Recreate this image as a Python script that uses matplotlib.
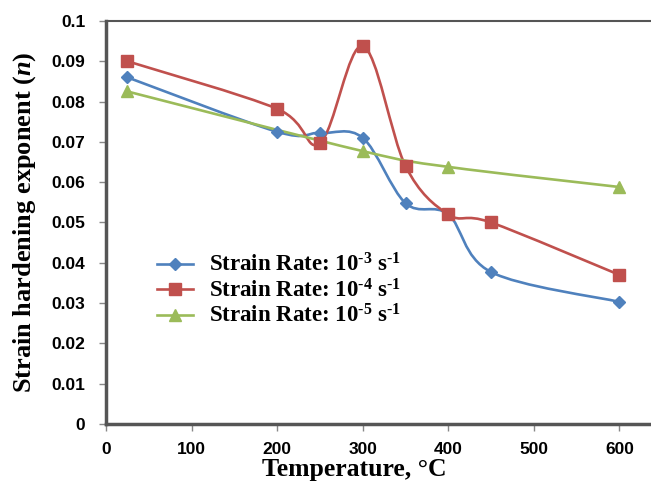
import matplotlib
matplotlib.use("Agg")
import matplotlib.pyplot as plt
from matplotlib.path import Path
from matplotlib.patches import PathPatch
from matplotlib.lines import Line2D

# data
temp_1 = [25, 200, 250, 300, 350, 400, 450, 600]
n_1 = [0.086, 0.0725, 0.0722, 0.071, 0.0548, 0.052, 0.0377, 0.0303]   # 10^-3 s^-1
temp_2 = [25, 200, 250, 300, 350, 400, 450, 600]
n_2 = [0.090, 0.0782, 0.0697, 0.0938, 0.0640, 0.052, 0.050, 0.037]   # 10^-4 s^-1
temp_3 = [25, 300, 400, 600]
n_3 = [0.0825, 0.0677, 0.0638, 0.0588]                                # 10^-5 s^-1

labels = ["Strain Rate: 10$^{\\text{-3}}$ s$^{\\text{-1}}$",
          "Strain Rate: 10$^{\\text{-4}}$ s$^{\\text{-1}}$",
          "Strain Rate: 10$^{\\text{-5}}$ s$^{\\text{-1}}$"]
colors = ["#4F81BD", "#C0504D", "#9BBB59"]
markers = ["D", "s", "^"]
msizes = [6.5, 8, 8]

plt.rcParams['mathtext.fontset'] = 'custom'
plt.rcParams['mathtext.rm'] = 'Liberation Serif:bold'
plt.rcParams['mathtext.bf'] = 'Liberation Serif:bold'
plt.rcParams['mathtext.it'] = 'Liberation Serif:bold:italic'


def smooth_path(x, y):
    # excel-like smoothed line: cubic bezier through the points
    pts = list(zip(x, y))
    verts = [pts[0]]
    codes = [Path.MOVETO]
    for i in range(len(pts) - 1):
        p0 = pts[i - 1] if i > 0 else pts[i]
        p1 = pts[i]
        p2 = pts[i + 1]
        p3 = pts[i + 2] if i + 2 < len(pts) else pts[i + 1]
        c1 = (p1[0] + (p2[0] - p0[0]) / 6, p1[1] + (p2[1] - p0[1]) / 6)
        c2 = (p2[0] - (p3[0] - p1[0]) / 6, p2[1] - (p3[1] - p1[1]) / 6)
        verts += [c1, c2, p2]
        codes += [Path.CURVE4] * 3
    return Path(verts, codes)


fig = plt.figure(figsize=(6.51, 4.91), dpi=100)
ax = fig.add_axes([0.163, 0.1365, 0.837, 0.8208])

handles = []
for xs, ys, c, m, ms, lab in zip([temp_1, temp_2, temp_3], [n_1, n_2, n_3],
                                 colors, markers, msizes, labels):
    ax.add_patch(PathPatch(smooth_path(xs, ys), facecolor='none', edgecolor=c, lw=1.9))
    ax.plot(xs, ys, linestyle='none', marker=m, color=c, markersize=ms)
    handles.append(Line2D([], [], color=c, lw=1.9, marker=m, markersize=ms, label=lab))

ax.set_xlim(0, 637)
ax.set_ylim(0, 0.1)
ax.set_xticks([0, 100, 200, 300, 400, 500, 600])
ax.set_yticks([0, 0.01, 0.02, 0.03, 0.04, 0.05, 0.06, 0.07, 0.08, 0.09, 0.1])
ax.set_yticklabels(['0', '0.01', '0.02', '0.03', '0.04', '0.05', '0.06', '0.07', '0.08', '0.09', '0.1'])

for lab in ax.get_xticklabels() + ax.get_yticklabels():
    lab.set_fontfamily('Liberation Sans')
    lab.set_fontweight('bold')
    lab.set_fontsize(12.5)
ax.tick_params(direction='out', length=5, color='#888888', width=1, pad=8)
ax.tick_params(axis='y', pad=10)

ax.spines['right'].set_visible(False)
ax.spines['left'].set_linewidth(2.5)
ax.spines['bottom'].set_linewidth(2.5)
ax.spines['top'].set_linewidth(1.5)
for s in ['left', 'bottom', 'top']:
    ax.spines[s].set_color('#555555')

ax.set_xlabel("Temperature, °C", fontfamily='Liberation Serif', fontweight='bold',
              fontsize=18.5, labelpad=4)
ax.xaxis.set_label_coords(0.455, -0.085)
ax.set_ylabel("Strain hardening exponent ($\\it{n}$)", fontfamily='Liberation Serif',
              fontweight='bold', fontsize=19)
ax.yaxis.set_label_coords(-0.125, 0.5)

ax.legend(handles=handles, loc='upper left', bbox_to_anchor=(0.093, 0.4225), frameon=False,
          prop={'family': 'Liberation Serif', 'weight': 'bold', 'size': 16.5},
          handlelength=1.6, labelspacing=0.1, handletextpad=0.7,
          borderpad=0, borderaxespad=0)

fig.savefig("out.png", dpi=100)
